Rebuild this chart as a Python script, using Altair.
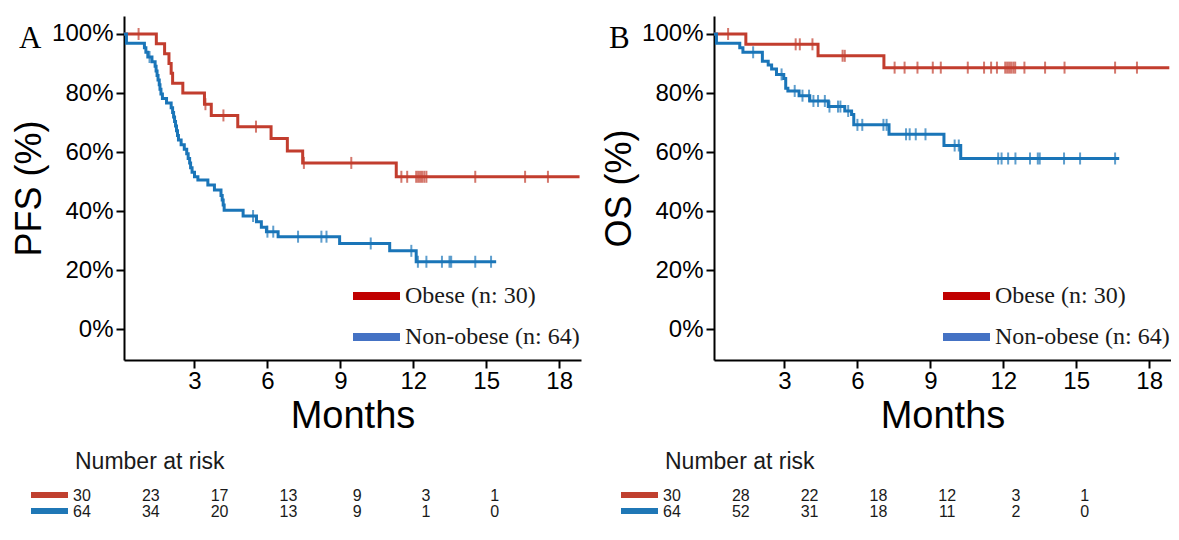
import altair as alt
import pandas as pd

# ---------------- data ----------------
groups = ["Obese", "Non-obese"]
legend_labels = ["Obese (n: 30)", "Non-obese (n: 64)"]
curve_colors = ["#C23D2E", "#1A75B8"]
legend_colors = ["#C00000", "#4472C4"]
risk_colors = ["#C0402F", "#1F77B6"]

# Panel A: PFS
pfs_obese_t = [0, 1.43, 1.77, 1.95, 2.04, 2.1, 2.52, 3.41, 3.69, 4.78, 6.15, 6.82, 7.45, 11.3]
pfs_obese_s = [100, 96.7, 93.3, 90.0, 86.7, 83.3, 80.0, 76.2, 72.4, 68.6, 64.6, 60.3, 56.3, 51.6]
pfs_obese_end = 18.84
pfs_obese_cens = [0.70, 3.45, 4.19, 5.53, 7.5, 9.45, 11.51, 11.75, 12.12, 12.2, 12.28,
                  12.36, 12.45, 12.54, 14.55, 16.6, 17.54]

pfs_non_t = [0, 0.2, 0.94, 1.0, 1.08, 1.25, 1.38, 1.42, 1.46, 1.5, 1.55, 1.58, 1.62, 1.68,
             1.85, 2.04, 2.1, 2.14, 2.18, 2.22, 2.26, 2.3, 2.34, 2.45, 2.58, 2.68, 2.74,
             2.8, 2.84, 2.9, 3.0, 3.14, 3.55, 3.82, 4.09, 4.14, 4.18, 4.22, 5.0, 5.55,
             5.75, 5.96, 6.44, 8.97, 11.03, 12.12]
pfs_non_s = [100, 96.9, 95.3, 93.8, 92.2, 90.6, 89.1, 87.5, 85.9, 84.4, 82.8, 81.3, 79.7,
             78.1, 76.6, 75.0, 73.4, 71.9, 70.3, 68.8, 67.2, 65.6, 64.1, 62.5, 60.9, 59.4,
             57.8, 56.3, 54.7, 53.1, 51.6, 50.5, 48.8, 47.1, 45.3, 43.7, 42.0, 40.3, 38.3,
             36.4, 34.5, 33.0, 31.3, 29.0, 26.5, 22.8]
pfs_non_end = 15.41
pfs_non_cens = [1.15, 5.41, 6.0, 6.24, 7.26, 8.22, 8.43, 10.25, 11.92, 12.19, 12.54,
                13.18, 13.49, 13.56, 14.55, 15.2]

# Panel B: OS
os_obese_t = [0, 1.41, 4.38, 7.09]
os_obese_s = [100, 96.5, 92.6, 88.6]
os_obese_end = 18.83
os_obese_cens = [0.68, 3.46, 3.63, 4.15, 5.39, 5.48, 7.53, 7.94, 8.47, 9.10, 9.43, 10.54,
                 11.21, 11.50, 11.74, 12.08, 12.16, 12.24, 12.32, 12.41, 12.49, 12.87,
                 13.72, 14.52, 16.6, 17.5]

os_non_t = [0, 0.2, 1.16, 1.29, 2.09, 2.33, 2.47, 2.67, 2.97, 3.05, 3.14, 3.6, 4.04, 4.8,
            5.48, 5.76, 5.85, 7.3, 9.56, 10.25]
os_non_s = [100, 96.9, 95.3, 93.8, 90.8, 89.5, 88.1, 86.3, 84.9, 81.6, 80.7, 79.1, 77.3,
            75.4, 73.9, 72.7, 69.2, 66.0, 62.2, 57.8]
os_non_end = 16.77
os_non_cens = [1.71, 2.88, 3.42, 3.74, 4.01, 4.19, 4.38, 4.66, 4.85, 5.2, 5.3, 5.62, 6.0,
               6.2, 7.07, 7.2, 8.0, 8.15, 8.4, 8.8, 10.0, 10.17, 11.79, 11.93, 12.2, 12.5,
               13.1, 13.42, 13.5, 14.5, 15.16, 16.6]

# Number at risk
risk_cols = [0, 1, 2, 3, 4, 5, 6]
pfs_risk_obese = [30, 23, 17, 13, 9, 3, 1]
pfs_risk_non = [64, 34, 20, 13, 9, 1, 0]
os_risk_obese = [30, 28, 22, 18, 12, 3, 1]
os_risk_non = [64, 52, 31, 18, 11, 2, 0]

x_ticks = [3, 6, 9, 12, 15, 18]
y_ticks = [0, 20, 40, 60, 80, 100]

# ---------------- helpers ----------------
W, H = 457, 344
RISK_H = 80


def step_df(times, surv, end, group):
    return pd.DataFrame({"t": times + [end], "s": surv + [surv[-1]], "group": group})


def cens_df(times, st, ss, group):
    vals = []
    for c in times:
        v = ss[0]
        for t, s in zip(st, ss):
            if t <= c:
                v = s
        vals.append(v)
    return pd.DataFrame({"t": times, "s": vals, "group": group})


def panel(letter, ytitle, curves, censors, risk_red, risk_blue):
    line_df = pd.concat(curves, ignore_index=True)
    c_df = pd.concat(censors, ignore_index=True)

    x = alt.X("t:Q",
              scale=alt.Scale(domain=[0.1, 18.9], nice=False, zero=False),
              axis=alt.Axis(values=x_ticks, title="Months", titleFontSize=38,
                            labelPadding=1, titlePadding=4, labelFlush=False))
    y = alt.Y("s:Q",
              scale=alt.Scale(domain=[-10.5, 106.1], nice=False, zero=False),
              axis=alt.Axis(values=y_ticks, labelExpr="datum.value + '%'", title=ytitle,
                            titleFontSize=36, labelPadding=3, titlePadding=3,
                            labelFlush=False))
    color = alt.Color("group:N", scale=alt.Scale(domain=groups, range=curve_colors),
                      legend=None)

    lines = alt.Chart(line_df).mark_line(interpolate="step-after", strokeWidth=3,
                                         clip=True).encode(x=x, y=y, color=color,
                                                           detail="group:N")
    ticks = alt.Chart(c_df).mark_tick(orient="vertical", size=12, thickness=2).encode(
        x=x, y=y, color=color)

    lab = alt.Chart(pd.DataFrame({"txt": [letter]})).mark_text(
        font="Liberation Serif", fontSize=31, align="left", baseline="alphabetic",
        color="black").encode(x=alt.value(-105), y=alt.value(32), text="txt:N")

    layers = [lines, ticks, lab]
    leg_rows = [280, 321]
    for i in range(2):
        d = pd.DataFrame({"lab": [legend_labels[i]]})
        layers.append(alt.Chart(d).mark_rule(strokeWidth=8, color=legend_colors[i]).encode(
            x=alt.value(229), x2=alt.value(276), y=alt.value(leg_rows[i])))
        layers.append(alt.Chart(d).mark_text(font="Liberation Serif", fontSize=24,
                                             align="left", baseline="middle",
                                             color="#1a1a1a").encode(
            x=alt.value(281), y=alt.value(leg_rows[i]), text="lab:N"))

    main = alt.layer(*layers).properties(width=W, height=H)

    # risk table
    rdf = pd.DataFrame({"col": risk_cols + risk_cols,
                        "row": [0] * 7 + [1] * 7,
                        "n": risk_red + risk_blue})
    px_per_col = 68.8
    x0 = 42 / px_per_col
    rx = alt.X("col:Q", scale=alt.Scale(domain=[x0, x0 + W / px_per_col], nice=False,
                                        zero=False), axis=None)
    ry = alt.Y("row:Q", scale=alt.Scale(domain=[-3.5, 1.5], reverse=True, nice=False,
                                        zero=False), axis=None)
    nums = alt.Chart(rdf).mark_text(font="Liberation Sans", fontSize=16, align="center",
                                    baseline="middle", color="#1a1a1a").encode(
        x=rx, y=ry, text="n:Q")
    rtitle = alt.Chart(pd.DataFrame({"txt": ["Number at risk"]})).mark_text(
        font="Liberation Sans", fontSize=23, align="left", baseline="middle",
        color="#1a1a1a").encode(x=alt.value(-49), y=alt.value(22), text="txt:N")
    bars = []
    for i, yy in enumerate([55, 71]):
        bars.append(alt.Chart(pd.DataFrame({"g": [groups[i]]})).mark_rule(
            strokeWidth=6, color=risk_colors[i]).encode(
            x=alt.value(-93), x2=alt.value(-56), y=alt.value(yy)))
    risk = alt.layer(nums, rtitle, *bars).properties(width=W, height=RISK_H)

    return alt.vconcat(main, risk, spacing=80, bounds="flush")


pA = panel("A", "PFS (%)",
           [step_df(pfs_obese_t, pfs_obese_s, pfs_obese_end, groups[0]),
            step_df(pfs_non_t, pfs_non_s, pfs_non_end, groups[1])],
           [cens_df(pfs_obese_cens, pfs_obese_t, pfs_obese_s, groups[0]),
            cens_df(pfs_non_cens, pfs_non_t, pfs_non_s, groups[1])],
           pfs_risk_obese, pfs_risk_non)

pB = panel("B", "OS (%)",
           [step_df(os_obese_t, os_obese_s, os_obese_end, groups[0]),
            step_df(os_non_t, os_non_s, os_non_end, groups[1])],
           [cens_df(os_obese_cens, os_obese_t, os_obese_s, groups[0]),
            cens_df(os_non_cens, os_non_t, os_non_s, groups[1])],
           os_risk_obese, os_risk_non)

chart = alt.hconcat(pA, pB, spacing=20).properties(
    padding={"left": 3, "top": 8, "right": 0, "bottom": 0},
    background="white"
).configure_view(stroke=None).configure_axis(
    domainColor="black", domainWidth=2, tickColor="black", tickWidth=2, tickSize=8,
    labelFont="Liberation Sans", labelFontSize=24, labelColor="black",
    titleFont="Liberation Sans", titleFontWeight="normal", titleColor="black", grid=False
)

chart.save("out.html", embed_options={"renderer": "svg", "actions": False})
